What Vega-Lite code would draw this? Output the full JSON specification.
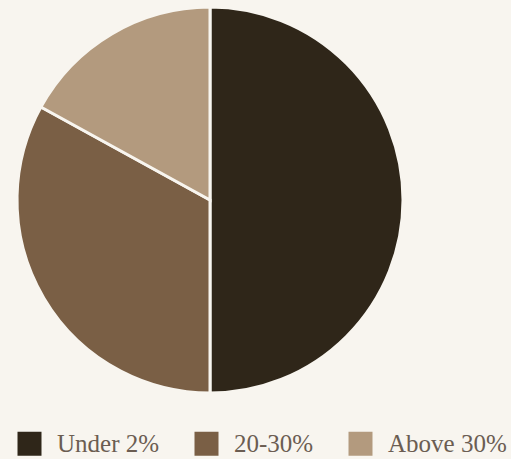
{
  "$schema": "https://vega.github.io/schema/vega-lite/v6.json",
  "width": 420,
  "height": 400,
  "padding": {"left": 0, "top": 0, "right": 91, "bottom": 59},
  "autosize": {"type": "none"},
  "background": "#f8f5ef",
  "config": {"view": {"stroke": null}},
  "data": {"values": [
    {"group": "Under 2%", "share": 50, "rank": 1},
    {"group": "20-30%", "share": 33, "rank": 2},
    {"group": "Above 30%", "share": 17, "rank": 3}
  ]},
  "mark": {"type": "arc", "outerRadius": 193, "stroke": "#f8f5ef", "strokeWidth": 3},
  "encoding": {
    "theta": {"field": "share", "type": "quantitative", "stack": true},
    "order": {"field": "rank", "type": "quantitative"},
    "color": {
      "field": "group",
      "type": "nominal",
      "scale": {"domain": ["Under 2%", "20-30%", "Above 30%"], "range": ["#2f2619", "#7a5f45", "#b39a7e"]},
      "legend": {
        "title": null,
        "orient": "none",
        "legendX": 17,
        "legendY": 431,
        "direction": "horizontal",
        "symbolType": "square",
        "symbolSize": 576,
        "symbolStrokeWidth": 0,
        "symbolOpacity": 1,
        "labelFont": "Liberation Serif",
        "labelFontSize": 25,
        "labelColor": "#6b5d52",
        "labelOffset": 15,
        "columnPadding": 34,
        "labelLimit": 300
      }
    }
  }
}
